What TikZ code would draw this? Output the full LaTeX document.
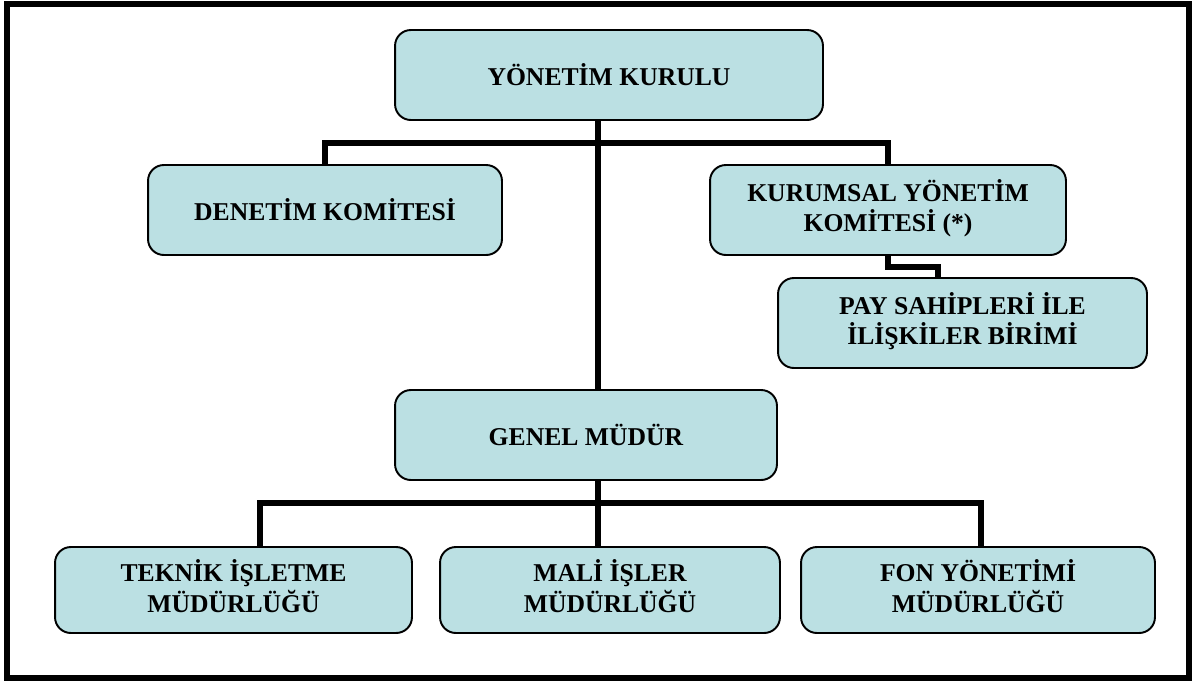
\documentclass[tikz,border=0pt]{standalone}
\usepackage{fontspec}
\setmainfont{Liberation Serif}
\definecolor{boxfill}{RGB}{187,224,227}
\newcommand{\twolines}[3]{\raisebox{#1}{\begin{tabular}{@{}c@{}}#2\\#3\end{tabular}}}
\begin{document}
\begin{tikzpicture}[x=0.02cm,y=-0.02cm]
        \tikzstyle{every node}+=[inner sep=0pt]
        \tikzstyle{unit}=[draw=black, line width=1.1pt, fill=boxfill, rounded corners=9pt, align=center, font=\fontsize{14.6}{16.5}\selectfont\bfseries]
        \tikzstyle{link}=[black, line width=3pt, line join=miter]
        \useasboundingbox (0,0) rectangle (1193,683);
        \draw [black, line width=3.2pt] (7,4) rectangle (1189,678);
        \node [unit, minimum width=8.56cm, minimum height=1.8cm] (yk) at (609,75) {\raisebox{-2pt}{YÖNETİM KURULU}};
        \node [unit, minimum width=7.08cm, minimum height=1.8cm] (dk) at (325,210) {DENETİM KOMİTESİ};
        \node [unit, minimum width=7.12cm, minimum height=1.8cm] (ky) at (888,210) {\twolines{4.5pt}{KURUMSAL YÖNETİM}{KOMİTESİ (*)}};
        \node [unit, minimum width=7.38cm, minimum height=1.8cm] (pay) at (962.5,323) {\twolines{5.5pt}{PAY SAHİPLERİ İLE}{İLİŞKİLER BİRİMİ}};
        \node [unit, minimum width=7.64cm, minimum height=1.8cm] (gm) at (586,435) {GENEL MÜDÜR};
        \node [unit, minimum width=7.14cm, minimum height=1.72cm] (tek) at (233.5,590) {\twolines{3.5pt}{TEKNİK İŞLETME}{MÜDÜRLÜĞÜ}};
        \node [unit, minimum width=6.8cm, minimum height=1.72cm] (mali) at (610,590) {\twolines{3.5pt}{MALİ İŞLER}{MÜDÜRLÜĞÜ}};
        \node [unit, minimum width=7.08cm, minimum height=1.72cm] (fon) at (978,590) {\twolines{3.5pt}{FON YÖNETİMİ}{MÜDÜRLÜĞÜ}};
        \coordinate (tbar) at (598,143);
        \coordinate (pjog) at (938,267);
        \coordinate (bbar) at (598,503);
        \coordinate (lbar) at (260,503);
        \coordinate (rbar) at (981,503);
        \draw [link] (tbar |- yk.south) -- (tbar |- gm.north);
        \draw [link] (dk.north) -- (dk.north |- tbar) -- (ky.north |- tbar) -- (ky.north);
        \draw [link] (ky.south) |- (pjog) -- (pjog |- pay.north);
        \draw [link] (bbar |- gm.south) -- (bbar |- mali.north);
        \draw [link] (lbar |- tek.north) -- (lbar) -- (rbar) -- (rbar |- fon.north);
\end{tikzpicture}
\end{document}
